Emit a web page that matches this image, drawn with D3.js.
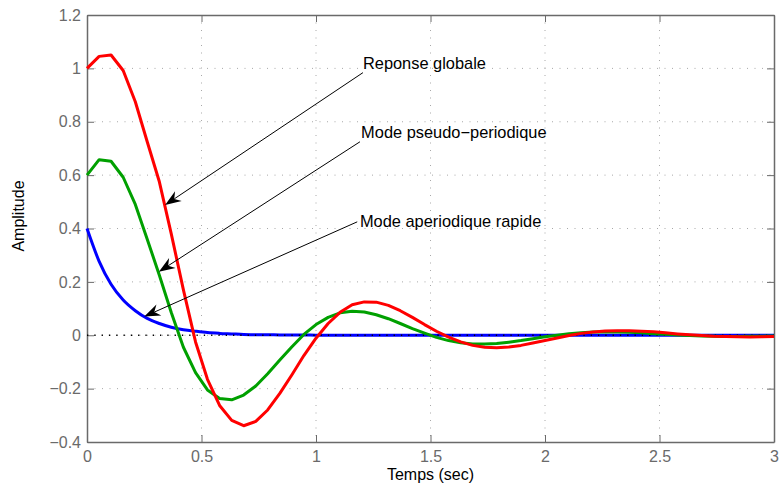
<!DOCTYPE html>
<html>
<head>
<meta charset="utf-8">
<script src="https://cdn.jsdelivr.net/npm/d3@7"></script>
<style>
  html, body { margin: 0; padding: 0; background: #fff; }
  svg { display: block; font-family: "Liberation Sans", Arial, Helvetica, sans-serif; }
</style>
</head>
<body>
<svg id="chart" width="780" height="485"></svg>
<script>
// ---- Data ----
const time = [0, 0.053, 0.105, 0.158, 0.211, 0.263, 0.316, 0.368, 0.421, 0.474,
  0.526, 0.579, 0.632, 0.684, 0.737, 0.789, 0.842, 0.895, 0.947, 1.0,
  1.053, 1.105, 1.158, 1.211, 1.263, 1.316, 1.368, 1.421, 1.474, 1.526,
  1.579, 1.632, 1.684, 1.737, 1.789, 1.842, 1.895, 1.947, 2.0, 2.053,
  2.105, 2.158, 2.211, 2.263, 2.316, 2.368, 2.421, 2.474, 2.526, 2.579,
  2.632, 2.684, 2.737, 2.789, 2.842, 2.895, 2.947, 3.0];

const modeAperiodique = [0.400, 0.277, 0.191, 0.132, 0.092, 0.063, 0.044, 0.030, 0.021, 0.015,
  0.010, 0.007, 0.005, 0.003, 0.002, 0.002, 0.001, 0.001, 0.001, 0,
  0, 0, 0, 0, 0, 0, 0, 0, 0, 0,
  0, 0, 0, 0, 0, 0, 0, 0, 0, 0,
  0, 0, 0, 0, 0, 0, 0, 0, 0, 0,
  0, 0, 0, 0, 0, 0, 0, 0];

const modePseudo = [0.600, 0.658, 0.652, 0.592, 0.490, 0.360, 0.225, 0.085, -0.045, -0.140,
  -0.205, -0.237, -0.242, -0.224, -0.190, -0.144, -0.093, -0.043, 0.003, 0.040,
  0.067, 0.084, 0.090, 0.087, 0.077, 0.062, 0.044, 0.025, 0.008, -0.008,
  -0.020, -0.028, -0.033, -0.033, -0.031, -0.026, -0.020, -0.013, -0.006, 0.000,
  0.006, 0.009, 0.012, 0.012, 0.012, 0.011, 0.009, 0.006, 0.004, 0.001,
  -0.001, -0.003, -0.004, -0.005, -0.005, -0.004, -0.004, -0.003];

const reponseGlobale = [1.000, 1.045, 1.050, 0.992, 0.875, 0.725, 0.575, 0.380, 0.170, -0.025,
  -0.165, -0.263, -0.319, -0.339, -0.323, -0.280, -0.218, -0.148, -0.076, -0.011,
  0.044, 0.086, 0.114, 0.125, 0.124, 0.112, 0.092, 0.067, 0.040, 0.015,
  -0.007, -0.025, -0.038, -0.045, -0.047, -0.044, -0.038, -0.029, -0.020, -0.010,
  -0.001, 0.007, 0.012, 0.016, 0.017, 0.017, 0.015, 0.013, 0.009, 0.005,
  0.002, -0.001, -0.004, -0.005, -0.006, -0.007, -0.006, -0.005];

const xTicks = [0, 0.5, 1, 1.5, 2, 2.5, 3];
const xTickLabels = ["0", "0.5", "1", "1.5", "2", "2.5", "3"];
const yTicks = [-0.4, -0.2, 0, 0.2, 0.4, 0.6, 0.8, 1, 1.2];
const yTickLabels = ["\u22120.4", "\u22120.2", "0", "0.2", "0.4", "0.6", "0.8", "1", "1.2"];

const annotationTexts = ["Reponse globale", "Mode pseudo\u2212periodique", "Mode aperiodique rapide"];
const xLabel = "Temps (sec)";
const yLabel = "Amplitude";

// ---- Layout ----
const svg = d3.select("#chart");
const pLeft = 87, pRight = 774, pTop = 15, pBottom = 442;
const x = d3.scaleLinear().domain([0, 3]).range([pLeft, pRight]);
const y = d3.scaleLinear().domain([-0.4, 1.2]).range([pBottom, pTop]);

const axisColor = "#6a6a6a";
const gridColor = "#a8a8a8";
const fontSize = 16;

// grid
const grid = svg.append("g");
grid.selectAll("line.gx").data(xTicks.slice(1, -1)).join("line")
  .attr("x1", d => x(d)).attr("x2", d => x(d))
  .attr("y1", pTop).attr("y2", pBottom)
  .attr("stroke", gridColor).attr("stroke-width", 1)
  .attr("stroke-dasharray", "1,6.5");
grid.selectAll("line.gy").data(yTicks.slice(1, -1)).join("line")
  .attr("y1", d => y(d)).attr("y2", d => y(d))
  .attr("x1", pLeft).attr("x2", pRight)
  .attr("stroke", gridColor).attr("stroke-width", 1)
  .attr("stroke-dasharray", "1,6.5");

// axes
function styleAxis(g) {
  g.selectAll("path.domain").attr("stroke", axisColor).attr("stroke-width", 1.5);
  g.selectAll(".tick line").attr("stroke", axisColor).attr("stroke-width", 1);
  g.selectAll(".tick text").attr("fill", axisColor)
    .attr("font-size", fontSize).attr("font-family", "Liberation Sans, Arial, sans-serif");
}
const xAxis = d3.axisBottom(x).tickValues(xTicks)
  .tickFormat((d, i) => xTickLabels[i]).tickSizeInner(-7).tickSizeOuter(0).tickPadding(9);
svg.append("g").attr("transform", `translate(0,${pBottom})`).call(xAxis).call(styleAxis);

const xAxisTop = d3.axisTop(x).tickValues(xTicks).tickFormat("").tickSizeInner(-7).tickSizeOuter(0);
svg.append("g").attr("transform", `translate(0,${pTop})`).call(xAxisTop).call(styleAxis);

const yAxis = d3.axisLeft(y).tickValues(yTicks)
  .tickFormat((d, i) => yTickLabels[i]).tickSizeInner(-7).tickSizeOuter(0).tickPadding(6);
svg.append("g").attr("transform", `translate(${pLeft},0)`).call(yAxis).call(styleAxis);

const yAxisRight = d3.axisRight(y).tickValues(yTicks).tickFormat("").tickSizeInner(-7).tickSizeOuter(0);
svg.append("g").attr("transform", `translate(${pRight},0)`).call(yAxisRight).call(styleAxis);

// curves
const line = d3.line().x((d, i) => x(time[i])).y(d => y(d));
const smoothLine = d3.line().x((d, i) => x(time[i])).y(d => y(d)).curve(d3.curveMonotoneX);
svg.append("path").datum(modeAperiodique).attr("d", smoothLine)
  .attr("fill", "none").attr("stroke", "#0000ff").attr("stroke-width", 3).attr("stroke-linejoin", "round");

// zero reference line (black dotted)
svg.append("line").attr("x1", x(0)).attr("x2", x(3)).attr("y1", y(0)).attr("y2", y(0))
  .attr("stroke", "#000").attr("stroke-width", 1.3).attr("stroke-dasharray", "1.3,6");

svg.append("path").datum(modePseudo).attr("d", line)
  .attr("fill", "none").attr("stroke", "#00a000").attr("stroke-width", 3).attr("stroke-linejoin", "round");
svg.append("path").datum(reponseGlobale).attr("d", line)
  .attr("fill", "none").attr("stroke", "#ff0000").attr("stroke-width", 3).attr("stroke-linejoin", "round");

// annotations (positions in data units)
const annotations = [
  { text: annotationTexts[0], tx: 1.205, ty: 0.997, sx: 1.205, sy: 0.984, ex: 0.341, ey: 0.488 },
  { text: annotationTexts[1], tx: 1.197, ty: 0.738, sx: 1.192, sy: 0.725, ex: 0.314, ey: 0.238 },
  { text: annotationTexts[2], tx: 1.192, ty: 0.404, sx: 1.180, sy: 0.425, ex: 0.250, ey: 0.070 }
];
const ann = svg.append("g");
annotations.forEach(a => {
  const x1 = x(a.sx), y1 = y(a.sy), x2 = x(a.ex), y2 = y(a.ey);
  const dx = x2 - x1, dy = y2 - y1, len = Math.hypot(dx, dy);
  const ux = dx / len, uy = dy / len, nx = -uy, ny = ux;
  const L = 16, Wd = 6, notch = 11;
  const bx = x2 - L * ux, by = y2 - L * uy;
  const mx = x2 - notch * ux, my = y2 - notch * uy;
  ann.append("line").attr("x1", x1).attr("y1", y1).attr("x2", mx).attr("y2", my)
    .attr("stroke", "#000").attr("stroke-width", 1);
  ann.append("path")
    .attr("d", `M${x2},${y2} L${bx + Wd * nx},${by + Wd * ny} L${mx},${my} L${bx - Wd * nx},${by - Wd * ny} Z`)
    .attr("fill", "#000");
  ann.append("text").attr("x", x(a.tx)).attr("y", y(a.ty))
    .attr("font-size", 16.4).attr("fill", "#000").text(a.text);
});

// axis labels
svg.append("text").attr("x", (pLeft + pRight) / 2).attr("y", 480)
  .attr("text-anchor", "middle").attr("font-size", fontSize).attr("fill", "#000").text(xLabel);
svg.append("text").attr("transform", "translate(24,216) rotate(-90)")
  .attr("text-anchor", "middle").attr("font-size", fontSize).attr("fill", "#000").text(yLabel);
</script>
</body>
</html>
